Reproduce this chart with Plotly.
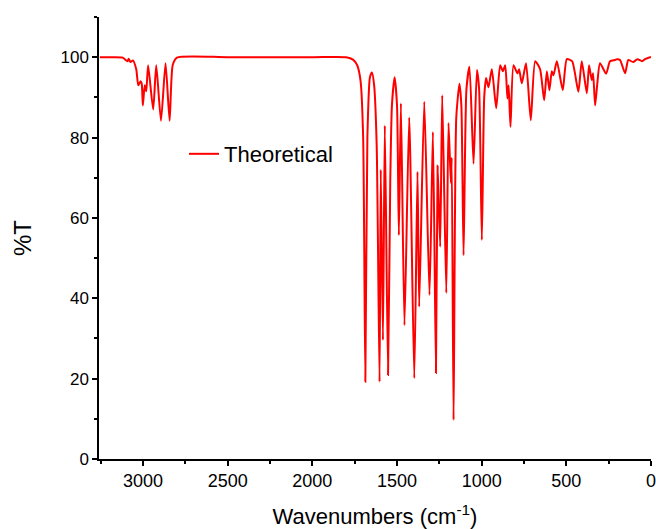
import plotly.graph_objects as go

# spectrum vertices (wavenumber, %T)
wavenumber = [
    3255, 3200, 3120, 3092, 3085, 3074, 3060, 3040, 3028, 3015, 3008, 3001,
    2990, 2981, 2970, 2940, 2922, 2894, 2867, 2843, 2825, 2800,
    2500, 2000, 1800, 1760, 1735, 1715, 1700,
    1687, 1675, 1660, 1648, 1635, 1620, 1603, 1596, 1583, 1572, 1553, 1540,
    1530, 1514, 1500, 1489, 1477, 1456, 1428, 1398, 1379, 1369, 1339, 1308,
    1288, 1270, 1260, 1245, 1233, 1209, 1196, 1182, 1177, 1166, 1150, 1131,
    1120, 1107, 1090, 1072, 1048, 1028, 1015, 999, 985, 974, 960, 940, 914,
    891, 875, 861, 848, 841, 830, 812, 789, 779, 763, 738, 710, 684, 655,
    631, 615, 600, 586, 576, 556, 521, 497, 466, 429, 409, 379, 366, 350,
    342, 330, 317, 301, 265, 242, 212, 201, 183, 153, 134, 106, 80, 53,
    35, 6, 0,
]
transmittance = [
    100.0, 100.0, 99.9, 99.0, 99.6, 98.8, 99.2, 97.0, 93.0, 94.0, 93.5, 88.0,
    93.0, 91.5, 98.0, 87.0, 98.0, 84.2, 98.5, 84.2, 98.0, 99.9,
    100.0, 100.0, 100.0, 99.4, 98.0, 94.0, 80.0,
    19.2, 80.0, 95.0, 96.2, 93.0, 78.0, 19.2, 72.0, 29.6, 83.0, 20.9, 68.7,
    88.0, 95.0, 88.0, 55.7, 88.5, 33.3, 85.0, 20.1, 71.5, 37.9, 88.9, 40.8,
    81.4, 21.4, 73.0, 52.8, 90.5, 41.3, 83.6, 68.7, 75.0, 9.7, 85.0, 93.4,
    88.0, 50.7, 92.0, 97.6, 73.5, 96.8, 92.0, 54.5, 90.0, 94.8, 92.5, 97.0, 87.3,
    98.0, 96.5, 98.0, 89.7, 93.0, 82.7, 98.0, 96.0, 97.0, 93.5, 98.5, 84.3, 99.0, 97.0,
    89.3, 96.5, 91.8, 96.5, 95.5, 99.0, 91.8, 99.5, 99.0, 91.4, 99.0, 91.0, 98.0, 94.3,
    96.0, 88.0, 93.5, 98.5, 95.9, 99.0, 99.3, 99.5, 99.3, 96.0, 99.3, 98.8, 99.5, 99.0,
    99.5, 100.0, 100.0,
]

x_ticks = [3000, 2500, 2000, 1500, 1000, 500, 0]
y_ticks = [0, 20, 40, 60, 80, 100]

fig = go.Figure()
fig.add_trace(go.Scatter(
    x=wavenumber, y=transmittance, mode="lines", name="Theoretical",
    line=dict(color="#ff0000", width=2, shape="spline", smoothing=0.6),
))

axis_style = dict(
    showline=True, linecolor="black", linewidth=1.5, mirror=False,
    ticks="outside", ticklen=5, tickwidth=1.5, tickcolor="black",
    showgrid=False, zeroline=False, ticklabeloverflow="allow",
)

fig.update_layout(
    width=656, height=529,
    margin=dict(l=99, r=5, t=17, b=70),
    plot_bgcolor="white", paper_bgcolor="white",
    font=dict(family="Liberation Sans, Arial, sans-serif", color="black"),
    xaxis=dict(
        range=[3260, 0], tickvals=x_ticks, automargin=False,
        minor=dict(dtick=250, ticks="outside", ticklen=3, tickcolor="black"),
        tickfont=dict(size=18),
        title=dict(text="Wavenumbers (cm<sup>-1</sup>)", font=dict(size=22), standoff=18),
        **axis_style,
    ),
    yaxis=dict(
        range=[0, 110], tickvals=y_ticks,
        minor=dict(tickvals=[10, 30, 50, 70, 90, 110], ticks="outside", ticklen=3, tickcolor="black"),
        tickfont=dict(size=17),
        title=dict(text="%T", font=dict(size=24), standoff=22),
        **axis_style,
    ),
    legend=dict(
        x=0.154, y=0.69, xanchor="left", yanchor="middle",
        bgcolor="rgba(0,0,0,0)", font=dict(size=22),
    ),
    showlegend=True,
)

# drop the default page margin so the figure sits at the window's corner
fig.write_html("out.html", config={"displayModeBar": False},
               post_script="document.body.style.margin='0';")
